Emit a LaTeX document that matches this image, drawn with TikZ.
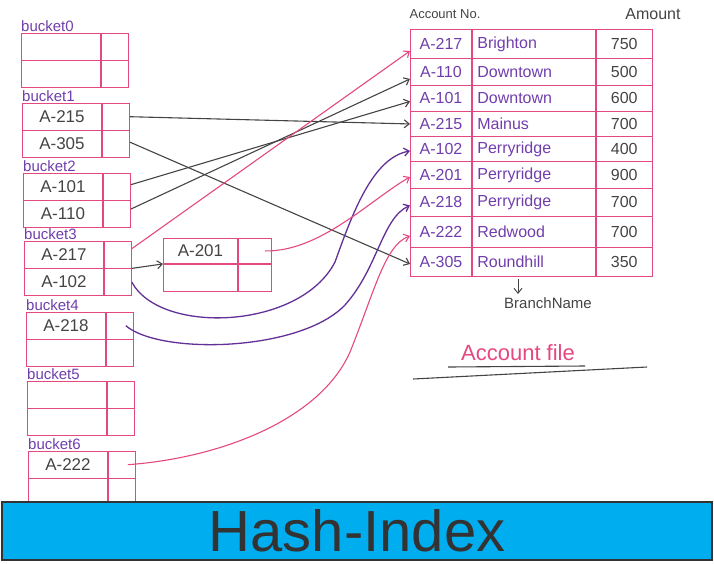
\documentclass[tikz,border=0pt]{standalone}
\usepackage{fontspec}
\setmainfont{Liberation Sans}
\usetikzlibrary{arrows.meta}
\definecolor{pinkl}{RGB}{228,72,128}
\definecolor{purt}{RGB}{112,62,172}
\definecolor{purl}{RGB}{98,48,150}
\definecolor{grayt}{RGB}{68,68,68}
\definecolor{bannerc}{RGB}{0,174,239}
\definecolor{bannert}{RGB}{51,51,51}
\newcommand\mkbucket[6]{%
  \node[blabel] (#1-lab) at (#2,#3-1) {#4};
  \node[kcell] (#1-k1) at (#2,#3) {#5};
  \node[pcell] (#1-p1) at (#1-k1.north east) {};
  \node[kcell] (#1-k2) at (#1-k1.south west) {#6};
  \node[pcell] (#1-p2) at (#1-k2.north east) {};
}
\newcommand\mkrow[6]{%
  \node[tcell, minimum width=61pt, minimum height=#3pt, text=purt] (acc#1) at (410,#2) {#4};
  \node[tcell, text width=113pt, inner xsep=5pt, align=left, minimum height=#3pt, text=purt] (br#1) at (acc#1.north east) {#5};
  \node[tcell, minimum width=56pt, minimum height=#3pt, text=grayt] (am#1) at (br#1.north east) {#6};
}
\begin{document}
\begin{tikzpicture}[x=1pt,y=-1pt,
  kcell/.style={draw=pinkl, line width=0.9pt, anchor=north west, inner sep=0pt,
    minimum width=79pt, minimum height=26.5pt, text=grayt, font=\fontsize{17}{17}\selectfont},
  pcell/.style={draw=pinkl, line width=0.9pt, anchor=north west, inner sep=0pt,
    minimum width=27pt, minimum height=26.5pt},
  blabel/.style={anchor=south west, inner sep=0pt, text=purt, font=\fontsize{15}{15}\selectfont},
  tcell/.style={draw=pinkl, line width=0.9pt, anchor=north west, inner ysep=0pt, inner xsep=0pt,
    font=\fontsize{16}{16}\selectfont},
  gline/.style={draw=grayt, line width=1.1pt},
  pline/.style={draw=pinkl, line width=1.1pt},
  vline/.style={draw=purl, line width=1.3pt},
  tip/.style={-{Straight Barb[length=5pt,width=8pt]}}
]
\useasboundingbox (0,0) rectangle (714,563);

% buckets
\mkbucket{b0}{21}{33}{bucket0}{}{}
\mkbucket{b1}{22}{103}{bucket1}{A-215}{A-305}
\mkbucket{b2}{23}{173}{bucket2}{A-101}{A-110}
\mkbucket{b3}{24}{241}{bucket3}{A-217}{A-102}
\mkbucket{b4}{26}{312}{bucket4}{A-218}{}
\mkbucket{b5}{27}{381}{bucket5}{}{}
\mkbucket{b6}{28}{451}{bucket6}{A-222}{}

% overflow bucket
\node[kcell, minimum width=74pt, minimum height=25pt] (ov-k1) at (163,238) {A-201};
\node[pcell, minimum width=33pt, minimum height=25pt] (ov-p1) at (ov-k1.north east) {};
\node[kcell, minimum width=74pt, minimum height=27pt] (ov-k2) at (ov-k1.south west) {};
\node[pcell, minimum width=33pt, minimum height=27pt] (ov-p2) at (ov-k2.north east) {};

% account file table
\node[text=grayt, font=\fontsize{13}{13}\selectfont] (hacc) at (445,14) {Account No.};
\node[text=grayt, font=\fontsize{16}{16}\selectfont] (hamt) at (653,14) {Amount};
\mkrow{1}{29}{29}{A-217}{Brighton}{750}
\mkrow{2}{58}{27}{A-110}{Downtown}{500}
\mkrow{3}{85}{26}{A-101}{Downtown}{600}
\mkrow{4}{111}{25}{A-215}{Mainus}{700}
\mkrow{5}{136}{25}{A-102}{Perryridge}{400}
\mkrow{6}{161}{27}{A-201}{Perryridge}{900}
\mkrow{7}{188}{28}{A-218}{Perryridge}{700}
\mkrow{8}{216}{31}{A-222}{Redwood}{700}
\mkrow{9}{247}{29}{A-305}{Roundhill}{350}

\node[text=grayt, font=\fontsize{15}{15}\selectfont] (bname) at (548,303) {BranchName};
\coordinate (bnstart) at (518,279);
\draw[gline, line width=0.9pt, tip] (bnstart) -- (bnstart |- bname.north);

\node[text=pinkl, font=\fontsize{22}{22}\selectfont] (afile) at (518,353) {Account file};
\draw[gline] (448,367) -- (585,366);
\draw[gline] (413,379) -- (647,367);

% connectors
\draw[gline, tip] (b1-p1.east) -- (acc4.west);
\draw[gline, tip] ([yshift=2pt]b1-p2.east) -- ([yshift=-2pt]acc9.west);
\draw[gline, tip] ([yshift=2pt]b2-p1.east) -- ([yshift=-3pt]acc3.west);
\draw[gline, tip] ([yshift=5pt]b2-p2.east) -- ([yshift=-7pt]acc2.west);
\draw[pline, tip] ([yshift=6pt]b3-p1.east) -- ([yshift=-7pt]acc1.west);
\draw[gline, tip] (b3-p1.south east) -- (ov-k1.south west);
\draw[vline, tip] (b3-p2.east) .. controls (160,335) and (300,330) .. (335,262)
  .. controls (352,215) and (372,158) .. ([yshift=-2pt]acc5.west);
\draw[vline, tip] ([xshift=-8pt]b4-p1.east) .. controls (160,355) and (300,352) .. (345,305)
  .. controls (378,268) and (382,218) .. ([yshift=-3pt]acc7.west);
\draw[pline, tip] ([xshift=-7pt]ov-p1.east) .. controls (320,252) and (370,200) .. ([yshift=-2pt]acc6.west);
\draw[pline, tip] ([xshift=-8pt]b6-p1.east) .. controls (220,458) and (320,420) .. (350,352)
  .. controls (375,290) and (385,245) .. ([yshift=-4pt]acc8.west);

% banner
\node[draw=bannert, fill=bannerc, line width=2.5pt, minimum width=710pt, minimum height=58pt,
  inner sep=0pt, text=bannert, font=\fontsize{58}{58}\selectfont] (banner) at (357,531) {Hash-Index};
\end{tikzpicture}
\end{document}
